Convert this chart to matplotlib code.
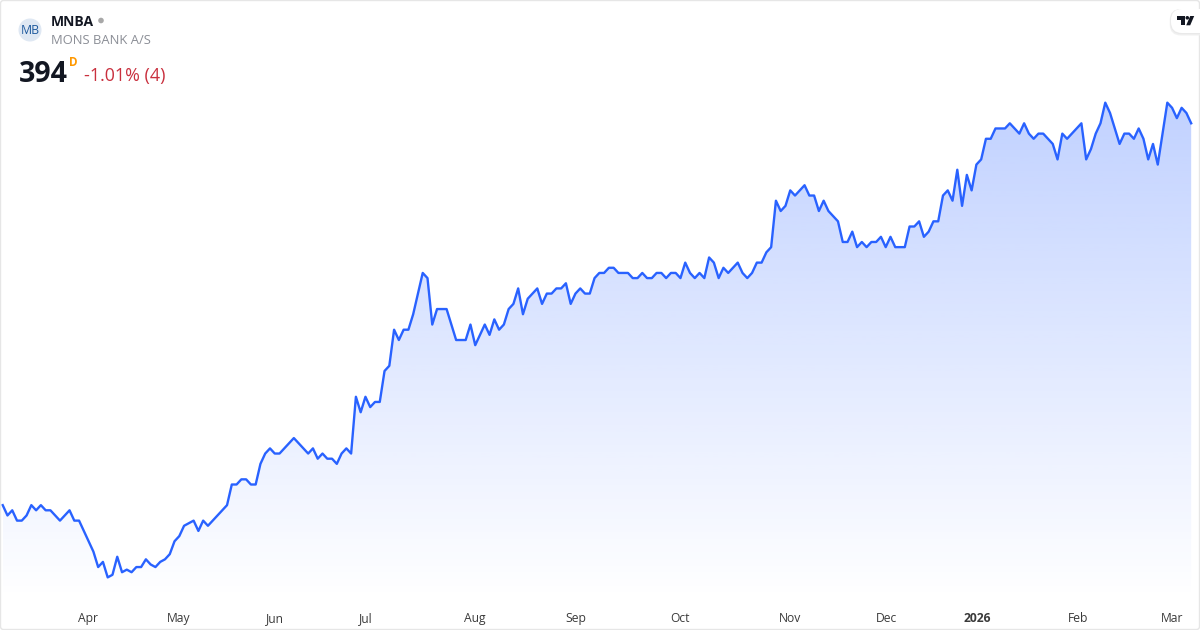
import numpy as np
import matplotlib
matplotlib.use("Agg")
import matplotlib.pyplot as plt
from matplotlib.patches import Circle, FancyBboxPatch, Polygon

# closing prices
prices_a = [246, 242, 244, 240, 240, 242, 246, 244, 246, 244, 244, 242, 240, 242, 244, 240, 240, 236,
            232, 228, 222, 224, 218, 219, 226, 220, 221, 220, 222, 222, 225, 223, 222, 224, 225, 227]
prices_b = [232, 234, 238, 239, 240, 236, 240, 238, 240, 242, 244, 246, 254, 254, 256, 256, 254, 254,
            262, 266, 268, 266, 266, 268, 270, 272, 270, 268, 266, 268, 264, 266, 264, 264, 262]
prices_c = [266, 268, 266, 288, 282, 288, 284, 286, 286, 298, 300, 314, 310, 314, 314, 320, 328, 336,
            334, 316, 322, 322, 322, 316, 310, 310, 310, 316, 308, 312, 316, 312, 318, 314, 316, 322]
prices_d = [324, 330, 320, 326, 328, 330, 324, 328, 328, 330, 330, 332, 324, 328, 330, 328, 328, 334,
            336, 336, 338, 338, 336, 336, 336, 334, 334, 336, 334, 334, 336, 336, 334, 336, 336]
prices_e = [334, 340, 336, 334, 336, 334, 342, 340, 334, 338, 336, 338, 340, 336, 334, 336, 340, 340,
            344, 346, 364, 360, 362, 368, 366, 368, 370, 366, 366, 360, 364, 360, 358, 356, 348, 348]
prices_f = [352, 346, 348, 346, 348, 348, 350, 346, 350, 346, 346, 346, 354, 354, 356, 350, 352, 356,
            356, 366, 368, 364, 376, 362, 374, 368, 378, 380, 388, 388, 392, 392, 392, 394, 392, 390]
prices_g = [394, 390, 388, 390, 390, 388, 386, 380, 390, 388, 390, 392, 394, 380, 384, 390, 394, 402,
            398, 392, 386, 390, 390, 388, 392, 388, 380, 386, 378, 390, 402, 400, 396, 400, 398, 394]
prices = np.array(prices_a + prices_b + prices_c + prices_d + prices_e + prices_f + prices_g, dtype=float)

month_labels = ["Apr", "May", "Jun", "Jul", "Aug", "Sep", "Oct", "Nov", "Dec", "2026", "Feb", "Mar"]
month_idx = [17.9, 36.9, 57.0, 76.1, 98.9, 120.0, 141.9, 164.9, 185.1, 204.1, 225.2, 245.1]

W, H = 1200, 630
x0_px, dx_px = 2.7, 4.773     # px of first point, px per session
y_ref_px, y_scale = 123.3, 2.58  # px of 394, px per krone
bottom_px = 605

def y_of_px(py):
    return 394 + (y_ref_px - py) / y_scale

plt.rcParams["font.family"] = ["Open Sans", "DejaVu Sans"]
fig = plt.figure(figsize=(W / 100, H / 100), dpi=100, facecolor="white")
ax = fig.add_axes([0, (H - bottom_px) / H, 1, bottom_px / H])

x = np.arange(len(prices))
xlim = (-x0_px / dx_px, (W - x0_px) / dx_px)
ylim = (y_of_px(bottom_px), y_of_px(0))

# gradient under the line
grad_top, grad_bot = 103, 600
alpha = np.linspace(0.29, 0, 256).reshape(-1, 1)
rgba = np.zeros((256, 1, 4))
rgba[..., 0], rgba[..., 1], rgba[..., 2] = 41 / 255, 98 / 255, 1.0
rgba[..., 3] = alpha
im = ax.imshow(rgba, extent=[x[0], x[-1], y_of_px(grad_bot), y_of_px(grad_top)], aspect="auto",
               origin="upper", interpolation="bilinear", zorder=1)
poly = ax.fill_between(x, prices, ylim[0], color="none", linewidth=0)
im.set_clip_path(poly.get_paths()[0], transform=ax.transData)

ax.plot(x, prices, color="#2962FF", lw=1.7, solid_joinstyle="round", zorder=2)
ax.set_xlim(xlim)
ax.set_ylim(ylim)

ax.set_xticks(month_idx, month_labels)
ax.tick_params(axis="x", length=0, pad=12.2, labelsize=8.7, labelcolor="#3b3b3b")
for lab in ax.get_xticklabels():
    lab.set_verticalalignment("baseline")
    if lab.get_text() == "2026":
        lab.set_fontweight("bold")
ax.set_yticks([])
for s in ax.spines.values():
    s.set_visible(False)

# overlay in pixel coordinates for the header, border and logo
ov = fig.add_axes([0, 0, 1, 1], facecolor="none")
ov.set_xlim(0, W)
ov.set_ylim(H, 0)
ov.axis("off")

ov.add_patch(FancyBboxPatch((0.5, 0.5), W - 1, H - 1, boxstyle="round,pad=0,rounding_size=3",
                            fc="none", ec="#e6e6e6", lw=1.0))

ov.add_patch(Circle((30, 30), 11.5, fc="#dfe8f3", ec="none"))
ov.text(30.5, 30.5, "MB", fontsize=8.8, color="#1f5a9e", ha="center", va="center")
ov.text(51, 22, "MNBA", fontsize=10, fontweight="bold", color="#131722", va="center")
ov.add_patch(Circle((101, 20.5), 2.8, fc="#a8a8a8", ec="none"))
ov.text(51, 41, "MONS BANK A/S", fontsize=9.35, color="#8b8e96", va="center")
ov.text(19, 74, "394", fontsize=20.5, fontweight="bold", color="#131722", va="center")
ov.text(69, 62, "D", fontsize=8.4, fontweight="bold", color="#ff9800", va="center")
ov.text(84, 76, "-1.01% (4)", fontsize=12.9, color="#c9303e", va="center")

# TradingView tag
for off, col in [(2.5, "#f1f1f1"), (1.2, "#e9e9e9")]:
    ov.add_patch(FancyBboxPatch((1171 - off / 2, 9), 40, 24 + off, boxstyle="round,pad=0,rounding_size=11",
                                fc=col, ec="none", clip_on=True))
ov.add_patch(FancyBboxPatch((1171, 9), 40, 24, boxstyle="round,pad=0,rounding_size=11",
                            fc="white", ec="none", clip_on=True))
ov.add_patch(Polygon([(1177.3, 16), (1185, 16), (1185, 25.3), (1181, 25.3), (1181, 19.5), (1177.3, 19.5)],
                     fc="#131722", ec="none"))
ov.add_patch(Circle((1187.3, 17.8), 1.8, fc="#131722", ec="none"))
ov.add_patch(Polygon([(1190.2, 16), (1194.2, 16), (1190.2, 25.3), (1186.2, 25.3)], fc="#131722", ec="none"))

fig.savefig("out.png", dpi=100, facecolor="white")
